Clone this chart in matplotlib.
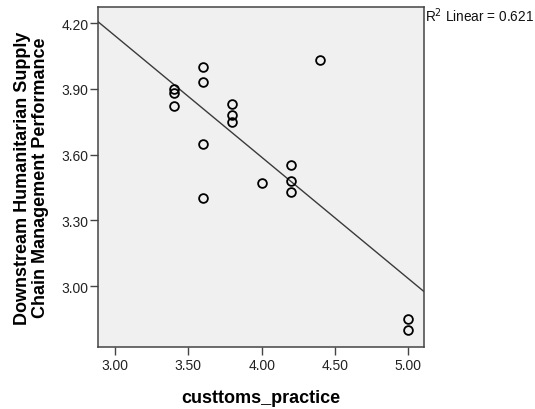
import numpy as np
import matplotlib
matplotlib.use("Agg")
import matplotlib.pyplot as plt

plt.rcParams['font.family'] = ['Liberation Sans', 'DejaVu Sans']

customs_practice = [3.6, 3.6, 4.4, 3.4, 3.4, 3.4, 3.8, 3.8, 3.8, 3.6,
                    4.2, 4.0, 4.2, 4.2, 3.6, 5.0, 5.0]
performance = [4.00, 3.93, 4.03, 3.90, 3.88, 3.82, 3.83, 3.78, 3.75, 3.65,
               3.55, 3.47, 3.48, 3.43, 3.40, 2.85, 2.80]
x_ticks = [3.00, 3.50, 4.00, 4.50, 5.00]
y_ticks = [3.00, 3.30, 3.60, 3.90, 4.20]
r2_text = "R$^2$ Linear = 0.621"

fig = plt.figure(figsize=(5.35, 4.10), dpi=100)
ax = fig.add_axes([97.5/535, 1-348/410, (424-97.5)/535, (348-8)/410])
ax.set_facecolor('#F0F0F0')

xlim = (2.881, 5.107)
ylim = (2.722, 4.273)

x = np.array(customs_practice)
y = np.array(performance)
b, a = np.polyfit(x, y, 1)
xs = np.array(xlim)
ax.plot(xs, a + b * xs, color='#3a3a3a', lw=1.0, zorder=2)

ax.plot(x, y, linestyle='none', marker='o', markersize=6.3,
        markerfacecolor='none', markeredgecolor='black', markeredgewidth=1.3, zorder=3)

ax.set_xlim(*xlim)
ax.set_ylim(*ylim)
ax.set_xticks(x_ticks)
ax.set_xticklabels([f"{v:.2f}" for v in x_ticks])
ax.set_yticks(y_ticks)
ax.set_yticklabels([f"{v:.2f}" for v in y_ticks])
ax.tick_params(axis='both', direction='out', length=5.5, width=1, color='#444444',
               labelsize=10, labelcolor='#222222')
ax.tick_params(axis='y', pad=1)
ax.tick_params(axis='x', pad=2.5)
for s in ax.spines.values():
    s.set_color('#444444')
    s.set_linewidth(1.1)

ax.set_xlabel("custtoms_practice", fontsize=13, fontweight='bold', labelpad=12)
ax.set_ylabel("Downstream Humanitarian Supply\nChain Management Performance",
              fontsize=13, fontweight='bold', labelpad=9, linespacing=1.05)

fig.text(425/535, 1-16/410, r2_text, fontsize=9.8, va='center', ha='left', color='#111111')

fig.savefig("out.png", dpi=100, facecolor='white')
